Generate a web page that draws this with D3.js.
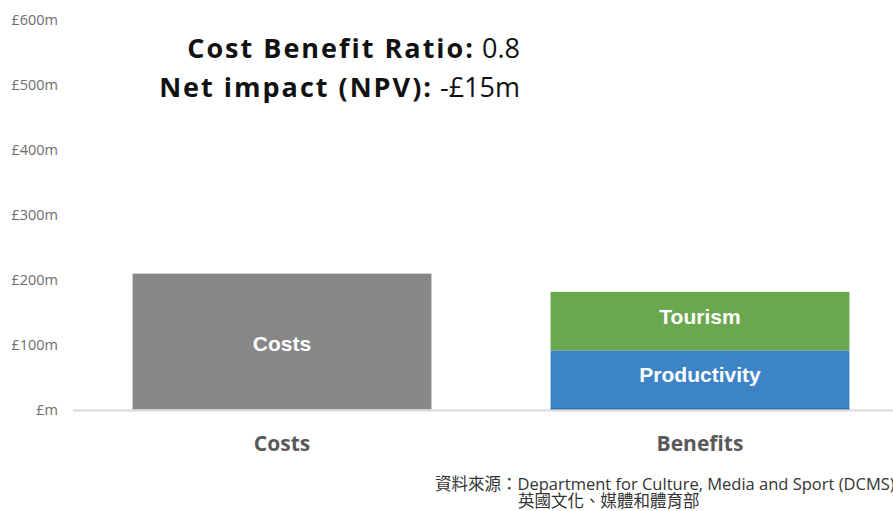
<!DOCTYPE html>
<html><head><meta charset="utf-8">
<script src="https://cdn.jsdelivr.net/npm/d3@7"></script>
<style>body{margin:0;background:#fff;overflow:hidden}svg{display:block}</style>
</head><body>
<script>
const categories = ["Costs", "Benefits"];
const costValues = [209, 0];
const productivityValues = [0, 91];
const tourismValues = [0, 90];
const seriesNames = ["Costs", "Productivity", "Tourism"];
const yTicks = [0, 100, 200, 300, 400, 500, 600];
const yTickLabels = ["£m", "£100m", "£200m", "£300m", "£400m", "£500m", "£600m"];
const titleLines = [["Cost Benefit Ratio:", " 0.8"], ["Net impact (NPV):", " -£15m"]];
const sourceLines = ["資料來源：Department for Culture, Media and Sport (DCMS)", "英國文化、媒體和體育部"];

const W = 893, H = 511;
const svg = d3.select("body").append("svg").attr("width", W).attr("height", H);

const y = d3.scaleLinear().domain([0, 600]).range([409.5, 19.5]);
const x = d3.scaleBand().domain(categories).range([73, 909]).paddingInner(0.285).paddingOuter(0.1425);

// y axis labels
const yAxis = d3.axisLeft(y).tickValues(yTicks).tickFormat((d, i) => yTickLabels[i]).tickSize(0).tickPadding(0);
const ya = svg.append("g").attr("transform", "translate(58,0)").call(yAxis);
ya.select(".domain").remove();
ya.selectAll("text").attr("font-family", "Open Sans, sans-serif").attr("font-size", 14.5).attr("fill", "#6e6e6e");

// stacked data
const colors = {"Costs": "#878787", "Productivity": "#3d84c6", "Tourism": "#6aa84f"};
const rows = categories.map((c, i) => ({cat: c, Costs: costValues[i], Productivity: productivityValues[i], Tourism: tourismValues[i]}));
const stack = d3.stack().keys(seriesNames)(rows);

const g = svg.append("g");
stack.forEach(layer => {
  layer.forEach(seg => {
    if (seg[1] - seg[0] <= 0) return;
    const cx = x(seg.data.cat);
    g.append("rect")
      .attr("x", cx).attr("width", x.bandwidth())
      .attr("y", y(seg[1])).attr("height", y(seg[0]) - y(seg[1]))
      .attr("fill", colors[layer.key]);
    g.append("text")
      .attr("x", cx + x.bandwidth() / 2)
      .attr("y", (y(seg[1]) + y(seg[0])) / 2 + (seg.data.cat === "Benefits" ? -5 : 1.5))
      .attr("dy", "0.36em")
      .attr("text-anchor", "middle")
      .attr("font-family", "Liberation Sans, Arial, sans-serif")
      .attr("font-weight", "bold").attr("font-size", 21).attr("fill", "#fff")
      .text(layer.key);
  });
});
// darker bottom edge on productivity
const pb = x("Benefits");
g.append("line").attr("x1", pb).attr("x2", pb + x.bandwidth()).attr("y1", y(0) - 0.5).attr("y2", y(0) - 0.5)
  .attr("stroke", "#2f5f91").attr("stroke-width", 1);

// x axis
const xAxis = d3.axisBottom(x).tickSize(0).tickPadding(26);
const xa = svg.append("g").attr("transform", `translate(0,${y(0) + 1})`).call(xAxis);
xa.select(".domain").attr("stroke", "#d9d9d9").attr("stroke-width", 2).attr("d", "M73,0H893");
xa.selectAll("text").attr("font-family", "Open Sans, sans-serif").attr("font-weight", "bold")
  .attr("font-size", 21).attr("fill", "#595959");

// title
const t = svg.append("g");
titleLines.forEach((ln, i) => {
  const txt = t.append("text").attr("x", 520).attr("y", 58 + i * 39).attr("text-anchor", "end")
    .attr("font-family", "Open Sans, sans-serif").attr("font-size", 27).attr("fill", "#111");
  txt.append("tspan").attr("font-weight", "bold").attr("letter-spacing", 2).text(ln[0]);
  txt.append("tspan").attr("font-weight", "normal").text(ln[1]);
});

// source
sourceLines.forEach((s, i) => {
  svg.append("text").attr("x", i === 0 ? 435 : 518).attr("y", 490 + i * 17)
    .attr("font-family", "Open Sans, Noto Sans CJK TC, sans-serif").attr("font-size", 16.5).attr("fill", "#333")
    .text(s);
});
</script>
</body></html>
